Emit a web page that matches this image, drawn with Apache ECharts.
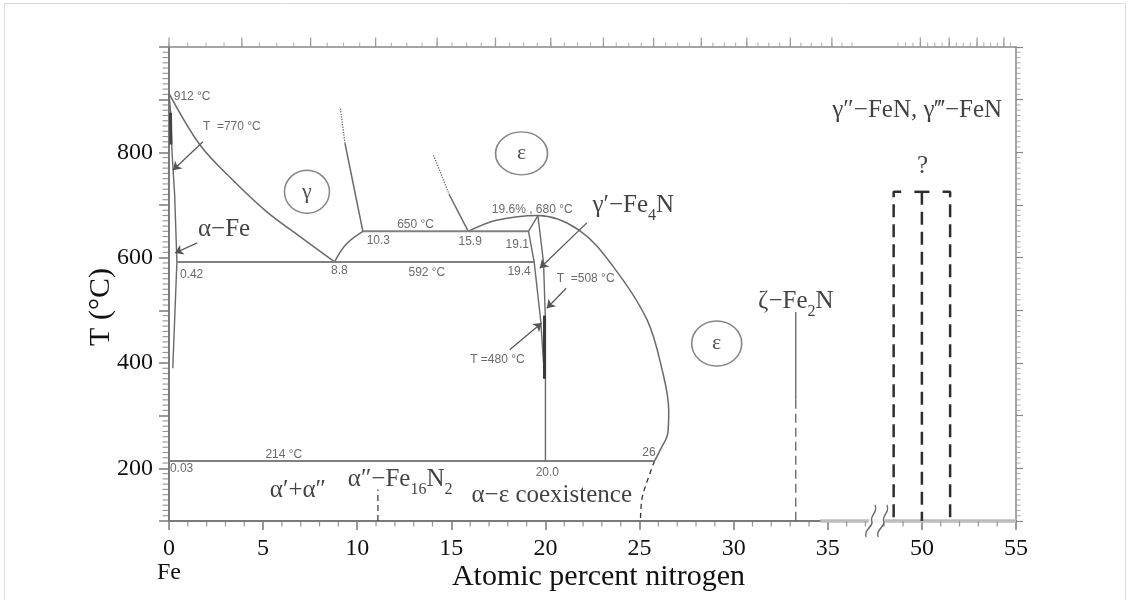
<!DOCTYPE html>
<html>
<head>
<meta charset="utf-8">
<script src="https://cdn.jsdelivr.net/npm/echarts@6/dist/echarts.min.js"></script>
<style>
  html, body { margin: 0; padding: 0; background: #fff; }
  #chart { width: 1130px; height: 600px; }
</style>
</head>
<body>
<div id="chart"></div>
<script>
// ---- Fe–N phase diagram: compositions in at.% N, temperatures in °C ----

// bottom axis tick labels (values after the axis break are shown as 50, 55)
const xTickLabels = ['0', '5', '10', '15', '20', '25', '30', '35', '50', '55'];
const originName = 'Fe';
// left axis: only these temperatures carry labels
const yTickLabels = [200, 400, 600, 800];
const T_MIN = 100, T_MAX = 1000;
const X_MIN = 0, X_MAX = 45;

// phase boundaries [at.% N, T]
const alphaFeBoundary = [[0, 912], [0.1, 870], [0.16, 800], [0.3, 720], [0.42, 592], [0.32, 500], [0.2, 390]];
const magneticSegment = [[0.08, 875], [0.1, 815]];
const gammaLower = [[0, 912], [1.65, 814], [3.4, 747], [5.2, 687], [7.0, 639], [8.8, 592]];
const gammaRightLow = [[8.8, 592], [9.4, 625], [10.3, 650]];
const gammaRightUp = [[10.3, 650], [9.35, 817]];
const gammaRightDotted = [[9.35, 817], [9.1, 885]];
const epsLeftSolid = [[15.9, 650], [14.9, 719]];
const epsLeftDotted = [[14.9, 719], [14.05, 795]];
const epsDome = [[15.9, 650], [17.4, 671], [19.6, 680], [21.8, 652], [23.6, 583], [25.4, 482],
                 [26.2, 387], [26.55, 310], [26.5, 267], [26.1, 235], [25.8, 214]];
const epsBelow214 = [[25.8, 214], [25.4, 175], [25.12, 140], [25.05, 100]];
const iso650 = [[10.3, 650], [19.1, 650]];
const iso592 = [[0.42, 592], [19.4, 592]];
const iso214 = [[0.03, 214], [25.8, 214]];
const gpLeft = [[19.6, 680], [19.1, 650], [19.4, 592], [19.75, 480], [19.9, 400]];
const gpRight = [[19.6, 680], [19.9, 590], [20.0, 480], [20.0, 214]];
const gpThick = [[19.95, 490], [19.95, 370]];
const fe16n2Line = [[11.1, 100], [11.1, 160]];
const zetaSolid = [[33.3, 497], [33.3, 330]];
const zetaDashed = [[33.3, 330], [33.3, 100]];
const feNLeft = [[48.9, 725], [48.5, 725], [48.5, 100]];
const feNMidTop = [[49.6, 725], [50.4, 725]];
const feNMid = [[50, 725], [50, 100]];
const feNRight = [[51.1, 725], [51.5, 725], [51.5, 100]];
const axisRightBand = [[34.6, 100], [55, 100]];

// arrows [from, to]
const arrows = [
  [[1.8, 820], [0.21, 766]],
  [[1.5, 628], [0.32, 609]],
  [[22.2, 666], [19.7, 580]],
  [[21.1, 542], [20.07, 504]],
  [[18.1, 425], [19.8, 476]]
];

// phase field circles [x, T, symbol, width, height]
const phaseCircles = [
  [7.33, 725, 'γ', 45, 43],
  [18.73, 798, 'ε', 52, 43],
  [29.1, 437, 'ε', 50, 45]
];

// small numeric annotations [x, T, text, align]
const smallNotes = [
  [0.25, 905, '912 °C', 'left'],
  [1.8, 848, 'T  =770 °C', 'left'],
  [10.5, 633, '10.3', 'left'],
  [9.05, 576, '8.8', 'center'],
  [0.58, 567, '0.42', 'left'],
  [13.1, 662, '650 °C', 'center'],
  [16.0, 630, '15.9', 'center'],
  [18.5, 624, '19.1', 'center'],
  [18.6, 573, '19.4', 'center'],
  [13.7, 571, '592 °C', 'center'],
  [19.3, 692, '19.6% , 680 °C', 'center'],
  [20.6, 560, 'T  =508 °C', 'left'],
  [16.0, 406, 'T =480 °C', 'left'],
  [6.1, 225, '214 °C', 'center'],
  [0.05, 199, '0.03', 'left'],
  [20.1, 191, '20.0', 'center'],
  [25.5, 229, '26', 'center']
];

// phase names [x, T, rich text, align]
const phaseNotes = [
  [1.54, 649, '{b|α−Fe}', 'left'],
  [22.5, 694, '{b|γ′−Fe}{s|4}{b|N}', 'left'],
  [6.85, 153, '{b|α′+α″}', 'center'],
  [9.5, 175, '{b|α″−Fe}{s|16}{b|N}{s|2}', 'left'],
  [24.6, 144, '{b|α−ε coexistence}', 'right'],
  [33.3, 512, '{b|ζ−Fe}{s|2}{b|N}', 'center'],
  [49.75, 875, '{b|γ″−FeN, γ‴−FeN}', 'center'],
  [50.04, 768, '{b|?}', 'center']
];

const breakAt = 37.6;   // position of the axis break symbol (axis units)

// ---- helpers ----
const SERIF = '"Liberation Serif", "Times New Roman", serif';
const SANS = '"Liberation Sans", Arial, sans-serif';
const GREY = '#6a6a6a';
const AX = '#7a7a7a';
const INK = '#111';

// compositions beyond the break are drawn 10 units to the left
const dx = x => (x > 40 ? x - 10 : x);
const pts = arr => arr.map(([x, t]) => [dx(x), t]);

function line(data, o = {}) {
  return {
    type: 'line', data: pts(data), symbol: 'none', showSymbol: false, silent: true,
    clip: false, smooth: o.smooth || false, z: o.z || 3,
    lineStyle: { color: o.color || GREY, width: o.width || 1.5, type: o.type || 'solid' }
  };
}

// wt.% N -> at.% N, for the unlabeled top scale
function wtToAt(w) { const n = w / 14.007, f = (100 - w) / 55.845; return 100 * n / (n + f); }
function topTicks(step) {
  const out = [];
  for (let w = 0; w <= 24.001; w += step) {
    const a = wtToAt(w);
    const pos = a > 47 ? a - 10 : a;
    if (a <= 36.3 || (a >= 48.4 && pos <= X_MAX)) out.push(+pos.toFixed(3));
  }
  return out;
}
const topMajor = topTicks(1);
const topMinor = topTicks(0.25);

// minor tick positions (skipping the major ones)
function minorTicks(from, to, step, major) {
  const out = [];
  for (let v = from; v <= to + 1e-9; v += step) {
    const r = Math.round(v * 100) / 100;
    if (Math.abs(r / major - Math.round(r / major)) > 1e-6) out.push(r);
  }
  return out;
}
const xMinor = minorTicks(X_MIN, X_MAX, 1, 5);
const yMinor = minorTicks(T_MIN, T_MAX, 10, 100);

// short tick marks drawn as thin rect symbols placed on an axis
function tickMarks(data, size, offset, color) {
  return {
    type: 'scatter', silent: true, clip: false, z: 2, symbol: 'rect',
    symbolSize: size, symbolOffset: offset, itemStyle: { color: color },
    data: data
  };
}

const richText = {
  b: { fontFamily: SERIF, fontSize: 25, color: INK, lineHeight: 30, verticalAlign: 'top' },
  s: { fontFamily: SERIF, fontSize: 16, color: INK, lineHeight: 16, padding: [15, 0, 0, 0], verticalAlign: 'top' }
};

const series = [
  // axis ticks
  tickMarks(xMinor.map(v => [v, T_MIN]), [1.2, 5], [0, 3], AX),
  tickMarks(yMinor.map(v => [X_MIN, v]), [6, 1.1], [-3.5, 0], AX),
  tickMarks(yMinor.map(v => [X_MAX, v]), [4, 1], [2.5, 0], '#999'),
  tickMarks(topMajor.map(v => [v, T_MAX]), [1.3, 9], [0, -5], '#888'),
  tickMarks(topMinor.map(v => [v, T_MAX]), [1, 4], [0, -2.5], '#999'),

  line(axisRightBand, { color: '#bdbdbd', width: 3.5, z: 1 }),
  line(alphaFeBoundary, { width: 1.4 }),
  line(magneticSegment, { width: 3, color: '#444' }),
  line(gammaLower, { smooth: 0.35 }),
  line(gammaRightLow, { smooth: 0.4 }),
  line(gammaRightUp),
  line(gammaRightDotted, { type: 'dotted', width: 1.3 }),
  line(epsLeftSolid),
  line(epsLeftDotted, { type: 'dotted', width: 1.3 }),
  line(epsDome, { smooth: 0.35 }),
  line(epsBelow214, { type: [5, 4], smooth: 0.4, color: '#333', width: 1.3 }),
  line(iso650, { width: 2, color: '#808080' }),
  line(iso592, { width: 2, color: '#808080' }),
  line(iso214, { width: 2, color: '#808080' }),
  line(gpLeft, { width: 1.4 }),
  line(gpRight, { width: 1.4 }),
  line(gpThick, { width: 3, color: '#3a3a3a' }),
  line(fe16n2Line, { type: [6, 4], width: 1.3, color: '#444' }),
  line(zetaSolid, { width: 1.2, color: '#555' }),
  line(zetaDashed, { type: [9, 5], width: 1.2, color: '#555' }),
  line(feNLeft, { type: [13, 7], width: 2.5, color: '#2e2e2e' }),
  line(feNMidTop, { width: 2.5, color: '#2e2e2e' }),
  line(feNMid, { type: [13, 7], width: 2.5, color: '#2e2e2e' }),
  line(feNRight, { type: [13, 7], width: 2.5, color: '#2e2e2e' }),
  {
    type: 'lines', coordinateSystem: 'cartesian2d', silent: true, z: 4,
    symbol: ['none', 'arrow'], symbolSize: 8,
    lineStyle: { color: '#555', width: 1.2, opacity: 1 },
    data: arrows.map(([a, b]) => ({ coords: [pts([a])[0], pts([b])[0]] }))
  },
  {
    type: 'scatter', silent: true, clip: false, z: 4,
    data: phaseCircles.map(([x, t, s, w, h]) => ({
      value: [dx(x), t], symbolSize: [w, h],
      label: { show: true, position: 'inside', formatter: s, fontFamily: SERIF, fontSize: 22, color: '#222' }
    })),
    symbol: 'circle',
    itemStyle: { color: 'rgba(255,255,255,0)', borderColor: '#666', borderWidth: 1.5 }
  },
  {
    type: 'scatter', silent: true, clip: false, z: 5, symbolSize: 0,
    data: smallNotes.map(([x, t, s, al]) => ({
      value: [dx(x), t],
      label: { show: true, position: 'inside', align: al, verticalAlign: 'middle', formatter: s,
               fontFamily: SANS, fontSize: 12, color: '#444' }
    }))
  },
  {
    type: 'scatter', silent: true, clip: false, z: 5, symbolSize: 0,
    data: phaseNotes.map(([x, t, s, al]) => ({
      value: [dx(x), t],
      label: { show: true, position: 'inside', align: al, verticalAlign: 'middle', formatter: s, rich: richText }
    }))
  },
  // axis break: white gap with two wavy strokes
  {
    type: 'scatter', silent: true, clip: false, z: 6,
    data: [[breakAt, T_MIN]], symbol: 'rect', symbolSize: [16, 7],
    itemStyle: { color: '#fff' }
  },
  {
    type: 'scatter', silent: true, clip: false, z: 7,
    data: [[breakAt, T_MIN]],
    symbol: 'path://M3,36 C0,28 10,24 8,18 C6,12 14,8 11,0 M14,36 C11,28 21,24 19,18 C17,12 25,8 22,0',
    symbolSize: [22, 32],
    itemStyle: { color: 'none', borderColor: '#444', borderWidth: 1.6 }
  }
];

const option = {
  animation: false,
  backgroundColor: '#fff',
  grid: { left: 169, right: 114, top: 47, bottom: 79, containLabel: false, outerBoundsMode: 'none' },
  xAxis: [
    {
      type: 'value', position: 'bottom', min: X_MIN, max: X_MAX, interval: 5,
      axisLine: { show: true, onZero: false, lineStyle: { color: AX, width: 2 } },
      axisTick: { show: true, length: 9, lineStyle: { color: AX, width: 1.5 } },
      splitLine: { show: false },
      axisLabel: {
        margin: 16, fontFamily: SERIF, fontSize: 24, color: INK, lineHeight: 24,
        formatter: v => {
          const s = xTickLabels[Math.round(v / 5)];
          return v === 0 ? s + '\n' + originName : s;
        }
      },
      name: 'Atomic percent nitrogen', nameLocation: 'middle', nameGap: 41, nameMoveOverlap: false,
      nameTextStyle: { fontFamily: SERIF, fontSize: 30, color: INK, padding: [0, 0, 0, 12] }
    },
    {
      type: 'value', position: 'top', min: X_MIN, max: X_MAX,
      axisLine: { show: true, onZero: false, lineStyle: { color: '#888', width: 1.5 } },
      axisTick: { show: false }, axisLabel: { show: false }, splitLine: { show: false }
    }
  ],
  yAxis: [
    {
      type: 'value', position: 'left', min: T_MIN, max: T_MAX, interval: 100,
      axisLine: { show: true, onZero: false, lineStyle: { color: AX, width: 2 } },
      axisTick: { show: true, length: 10, lineStyle: { color: AX, width: 1.5 } },
      splitLine: { show: false },
      axisLabel: {
        margin: 16, fontFamily: SERIF, fontSize: 24, color: INK,
        formatter: v => (yTickLabels.includes(v) ? String(v) : '')
      },
      name: 'T (°C)', nameLocation: 'middle', nameGap: 53, nameRotate: 90, nameMoveOverlap: false,
      nameTextStyle: { fontFamily: SERIF, fontSize: 30, color: INK, padding: [0, 46, 0, 0] }
    },
    {
      type: 'value', position: 'right', min: T_MIN, max: T_MAX, interval: 100,
      axisLine: { show: true, onZero: false, lineStyle: { color: '#888', width: 1.5 } },
      axisTick: { show: true, length: 7, lineStyle: { color: '#888', width: 1.2 } },
      axisLabel: { show: false }, splitLine: { show: false }
    }
  ],
  graphic: [
    { type: 'rect', silent: true, z: -1, shape: { x: 4.5, y: 3.5, width: 1121, height: 600 },
      style: { fill: 'none', stroke: '#dcdcdc', lineWidth: 1 } }
  ],
  series: series
};

const chart = echarts.init(document.getElementById('chart'), null, { renderer: 'canvas' });
chart.setOption(option);
</script>
</body>
</html>
